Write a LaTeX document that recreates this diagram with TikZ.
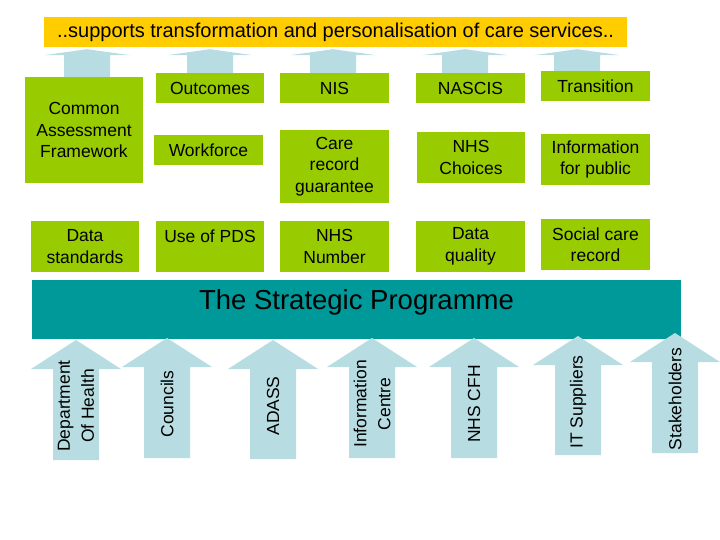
\documentclass[tikz,border=0pt]{standalone}
\usepackage{fontspec}
\setmainfont{Liberation Sans}
\usetikzlibrary{positioning, calc}
\definecolor{BoxGreen}{RGB}{153,204,0}
\definecolor{ArrBlue}{RGB}{183,221,227}
\definecolor{ProgTeal}{RGB}{0,153,153}
\definecolor{BannerGold}{RGB}{255,204,0}

\begin{document}
\begin{tikzpicture}[x=1pt, y=-1pt,
    wsbox/.style={rectangle, fill=BoxGreen, inner sep=0pt, align=center,
                  font=\fontsize{17.5}{21.5}\selectfont},
    arrfill/.style={fill=ArrBlue},
    lbl/.style={rotate=90, inner sep=0pt, align=center,
                font=\fontsize{17.5}{24}\selectfont}
  ]
  \useasboundingbox (0,0) rectangle (720,540);

  % goal banner
  \node[fill=BannerGold, minimum width=583pt, minimum height=30pt,
        font=\fontsize{20}{24}\selectfont] (banner) at (335.5,32)
        {..supports transformation and personalisation of care services..};

  % work streams, column by column
  \node[wsbox, minimum width=118pt, minimum height=106pt] (caf) at (84,130)
        {Common\\Assessment\\Framework};
  \node[wsbox, minimum width=108pt, minimum height=51pt] (datastd) at (85,246.5)
        {Data\\standards};

  \node[wsbox, minimum width=108pt, minimum height=30pt] (outc) at (210,88) {Outcomes};
  \node[wsbox, minimum width=109pt, minimum height=30pt] (wforce) at (208.5,150) {Workforce};
  \node[wsbox, minimum width=108pt, minimum height=51pt] (pds) at (210,246.5)
        {Use of PDS\\\mbox{}};

  \node[wsbox, minimum width=109pt, minimum height=30pt] (nis) at (334.5,88) {NIS};
  \node[wsbox, minimum width=109pt, minimum height=73pt] (carerec) at (334.5,166.5)
        {Care\\record\\guarantee};
  \node[wsbox, minimum width=109pt, minimum height=51pt] (nhsnum) at (334.5,246.5)
        {NHS\\Number};

  \node[wsbox, minimum width=109pt, minimum height=30pt] (nascis) at (470.5,88) {NASCIS};
  \node[wsbox, minimum width=108pt, minimum height=51pt] (choices) at (471,157.5)
        {NHS\\Choices};
  \node[wsbox, minimum width=109pt, minimum height=51pt] (dataq) at (470.5,246.5)
        {Data\\quality};

  \node[wsbox, minimum width=109pt, minimum height=30pt] (trans) at (595.5,86) {Transition};
  \node[wsbox, minimum width=109pt, minimum height=51pt] (infopub) at (595.5,159.5)
        {Information\\for public};
  \node[wsbox, minimum width=109pt, minimum height=51pt] (socrec) at (595.5,244.5)
        {Social care\\record};

  % arrows up into the banner
  \foreach \ax/\bx in {87/caf, 210/outc, 333/nis, 465/nascis, 577/trans}{
    \path (\ax,0 |- banner.south) coordinate (t) (\ax,0 |- \bx.north) coordinate (b);
    \fill[arrfill] ($(t)+(0,2)$) -- ($(t)+(43,8)$) -- ($(t)+(23,8)$) -- ($(b)+(23,0)$)
      -- ($(b)+(-23,0)$) -- ($(t)+(-23,8)$) -- ($(t)+(-43,8)$) -- cycle;
  }

  % programme band
  \node[fill=ProgTeal, minimum width=649pt, minimum height=59pt] (prog) at (356.5,309.5) {};
  \node[inner sep=0pt, font=\fontsize{27.5}{30}\selectfont, below=10pt of prog.north]
        (progtitle) {The Strategic Programme};

  % partners pushing up
  \foreach \ax/\ty/\by/\nm/\txt in {76/340/460/doh/{Department\\Of Health},
      167/338/458/counc/Councils, 273/340/459/adass/ADASS,
      372/338/458/infoc/{Information\\Centre}, 474/338/458/cfh/NHS CFH,
      578/336/455/itsup/IT Suppliers, 675/333/453/stake/Stakeholders}{
    \fill[arrfill] (\ax,\ty) -- (\ax+45,\ty+29) -- (\ax+23,\ty+29) -- (\ax+23,\by)
      -- (\ax-23,\by) -- (\ax-23,\ty+29) -- (\ax-45,\ty+29) -- cycle;
    \node[lbl] (\nm) at (\ax,\ty+66) {\txt};
  }
\end{tikzpicture}
\end{document}
